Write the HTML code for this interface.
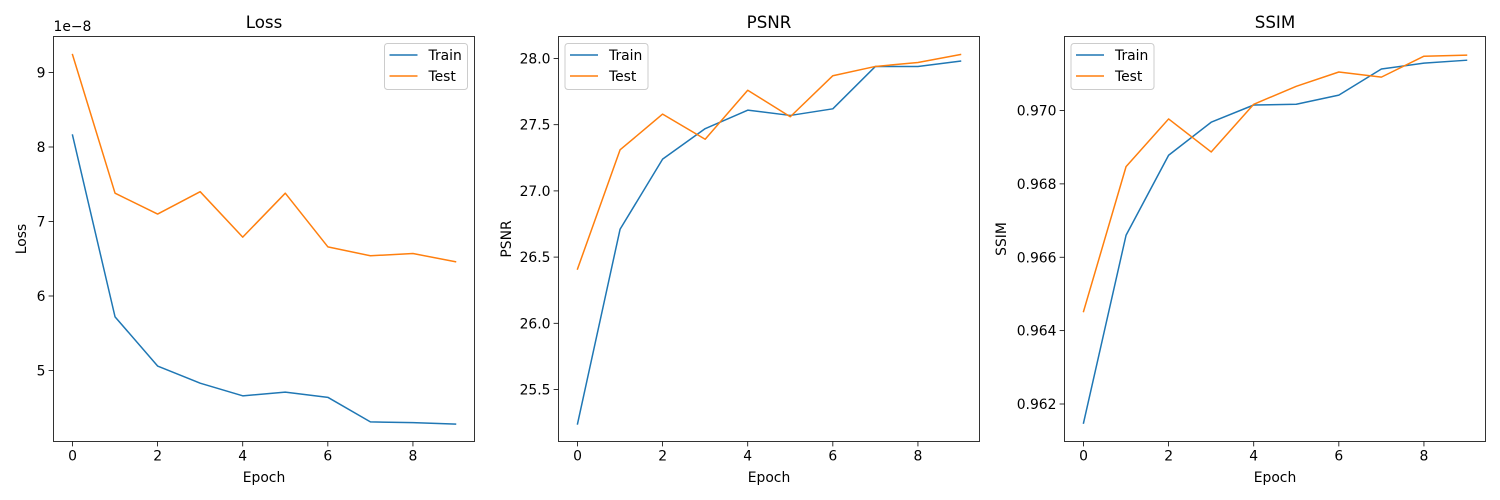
<!DOCTYPE html>
<html><head><meta charset="utf-8"><style>
body{margin:0;background:#fff;}
svg{display:block;font-family:"DejaVu Sans","Liberation Sans",sans-serif;}
</style></head><body>
<svg id="fig" width="1500" height="500" viewBox="0 0 1500 500"></svg>
<script>
const epochs = [0,1,2,3,4,5,6,7,8,9];
const lossTrain = [8.16,5.72,5.06,4.83,4.66,4.71,4.64,4.31,4.30,4.28];
const lossTest = [9.24,7.38,7.10,7.40,6.79,7.38,6.66,6.54,6.57,6.46];
const psnrTrain = [25.24,26.71,27.24,27.47,27.61,27.57,27.62,27.94,27.94,27.98];
const psnrTest = [26.41,27.31,27.58,27.39,27.76,27.56,27.87,27.94,27.97,28.03];
const ssimTrain = [0.96148,0.96660,0.96878,0.96968,0.97015,0.97017,0.97042,0.97113,0.97129,0.97137];
const ssimTest = [0.96452,0.96847,0.96977,0.96887,0.97017,0.97066,0.97105,0.97091,0.97148,0.97151];
const xTicks = [0,2,4,6,8];
const lossTicks = [5,6,7,8,9];
const psnrTicks = [25.5,26.0,26.5,27.0,27.5,28.0];
const ssimTicks = [0.962,0.964,0.966,0.968,0.970];
const seriesNames = ["Train","Test"];

const NS="http://www.w3.org/2000/svg";
const svgEl=document.getElementById('fig');
function mk(tag,attrs,parent){const e=document.createElementNS(NS,tag);for(const k in attrs)e.setAttribute(k,attrs[k]);(parent||svgEl).appendChild(e);return e;}

const panels=[
 {key:'loss',title:'Loss',ylab:'Loss',x0:53.5,x1:474.5,train:lossTrain,test:lossTest,ticks:lossTicks,fmt:v=>String(v),
  ya:[9,72.5],yb:[5,370.5],legendRight:true,offset:'1e\u22128'},
 {key:'psnr',title:'PSNR',ylab:'PSNR',x0:558.5,x1:979.5,train:psnrTrain,test:psnrTest,ticks:psnrTicks,fmt:v=>v.toFixed(1),
  ya:[28,58.5],yb:[25.5,389.5],legendRight:false},
 {key:'ssim',title:'SSIM',ylab:'SSIM',x0:1064.5,x1:1485.5,train:ssimTrain,test:ssimTest,ticks:ssimTicks,fmt:v=>v.toFixed(3),
  ya:[0.970,110.5],yb:[0.962,404],legendRight:false}
];
const topY=36.5,botY=441.5;
panels.forEach(p=>{
  const g=mk('g',{});
  
  
  const xs=(p.x1-p.x0-38)/9;
  const X=v=>p.x0+19+v*xs;
  const Y=v=>p.ya[1]+(v-p.ya[0])*(p.yb[1]-p.ya[1])/(p.yb[0]-p.ya[0]);
  const t=mk('text',{x:(p.x0+p.x1)/2,y:28,'text-anchor':'middle','font-size':16.7,fill:'#000'},g);t.textContent=p.title;
  
  xTicks.forEach(v=>{
    mk('line',{x1:X(v),x2:X(v),y1:botY,y2:botY+4.9,stroke:'#000','stroke-width':0.8},g);
    const tl=mk('text',{x:X(v),y:botY+19,'text-anchor':'middle','font-size':13.9},g);tl.textContent=v;
    
  });
  p.ticks.forEach(v=>{
    mk('line',{x1:p.x0-4.9,x2:p.x0,y1:Y(v),y2:Y(v),stroke:'#000','stroke-width':0.8},g);
    const tl=mk('text',{x:p.x0-8,y:Y(v)+5,'text-anchor':'end','font-size':13.9},g);tl.textContent=p.fmt(v);
    
  });
  const xl=mk('text',{x:(p.x0+p.x1)/2,y:482,'text-anchor':'middle','font-size':13.9},g);xl.textContent='Epoch';
  
  const yx=p.key==='loss'?26:p.key==='psnr'?511:1006;
  const yl=mk('text',{x:yx,y:239,'text-anchor':'middle','font-size':13.9,transform:`rotate(-90 ${yx} 239)`},g);yl.textContent=p.ylab;
  
  if(p.offset){const o=mk('text',{x:p.x0,y:31,'font-size':13.9},g);o.textContent=p.offset;
    }
  [[p.train,'#1f77b4','train'],[p.test,'#ff7f0e','test']].forEach(([d,c,n])=>{
    const pl=mk('polyline',{points:d.map((v,i)=>X(epochs[i])+','+Y(v)).join(' '),fill:'none',stroke:c,'stroke-width':1.5,'stroke-linejoin':'round','stroke-linecap':'square'},g);
    
  });
  mk('rect',{x:p.x0,y:topY,width:p.x1-p.x0,height:botY-topY,fill:'none',stroke:'#000','stroke-width':0.8},g);
  const lx=p.legendRight?p.x1-90:p.x0+6.5;
  const lg=mk('g',{},g);
  mk('rect',{x:lx,y:43.5,width:83,height:46,rx:3,fill:'#fff','fill-opacity':0.8,stroke:'#ccc','stroke-width':1},lg);
  seriesNames.forEach((s,i)=>{
    const yy=55+i*21;
    mk('line',{x1:lx+5,x2:lx+33,y1:yy,y2:yy,stroke:i?'#ff7f0e':'#1f77b4','stroke-width':1.5},lg);
    const e=mk('text',{x:lx+44,y:yy+5,'font-size':13.9},lg);e.textContent=s;
    
  });
});
</script>
</body></html>
